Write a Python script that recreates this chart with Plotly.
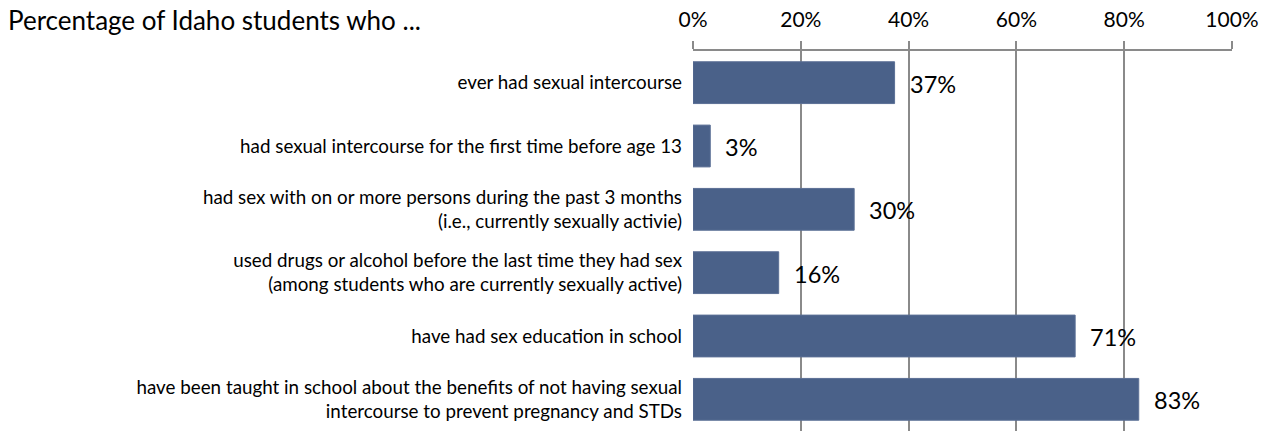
import plotly.graph_objects as go

categories = [
    "ever had sexual intercourse",
    "had sexual intercourse for the first time before age 13",
    "had sex with on or more persons during the past 3 months<br>(i.e., currently sexually activie)",
    "used drugs or alcohol before the last time they had sex<br>(among students who are currently sexually active)",
    "have had sex education in school",
    "have been taught in school about the benefits of not having sexual<br>intercourse to prevent pregnancy and STDs",
]
values = [37.4, 3.2, 29.9, 15.9, 70.9, 82.7]
labels = [f"{round(v)}%" for v in values]
tick_vals = [0, 20, 40, 60, 80, 100]
tick_text = ["0%", "20%", "40%", "60%", "80%", "100%"]
title_text = "Percentage of Idaho students who ..."

FONT = "Lato, 'Liberation Sans', sans-serif"
BAR = "#4a6189"
GRID = "#8a8a8a"

fig = go.Figure()
fig.add_trace(go.Bar(
    x=values, y=categories, orientation="h",
    marker=dict(color=BAR, line=dict(color="#5b6f95", width=1)),
    hoverinfo="skip",
))
for v, c, t in zip(values, categories, labels):
    fig.add_annotation(x=v, y=c, text=t, showarrow=False, xanchor="left",
                       xshift=13, yshift=-1, font=dict(family=FONT, size=23.5, color="#000"))

fig.update_layout(
    width=1274, height=431,
    margin=dict(l=693, r=42, t=51, b=0),
    paper_bgcolor="white", plot_bgcolor="white",
    bargap=0.34,
    showlegend=False,
    title=dict(text=title_text, x=8/1274, xanchor="left", xref="container",
               y=1 - 21/431, yanchor="middle", yref="container",
               font=dict(family=FONT, size=26, color="#000")),
    font=dict(family=FONT, color="#000"),
)
fig.update_xaxes(
    side="top", range=[0, 100], tickvals=tick_vals, ticktext=tick_text,
    showgrid=True, gridcolor=GRID, gridwidth=1.8,
    showline=True, linecolor=GRID, linewidth=2,
    ticks="outside", ticklen=8, tickcolor=GRID, tickwidth=2,
    zeroline=False, tickfont=dict(family=FONT, size=21, color="#000"),
    ticklabelstandoff=6,
)
fig.update_yaxes(
    autorange="reversed", showgrid=False, showline=False, ticks="",
    tickfont=dict(family=FONT, size=18.8, color="#000"), ticklabelstandoff=10,
)
fig.write_html("out.html")
